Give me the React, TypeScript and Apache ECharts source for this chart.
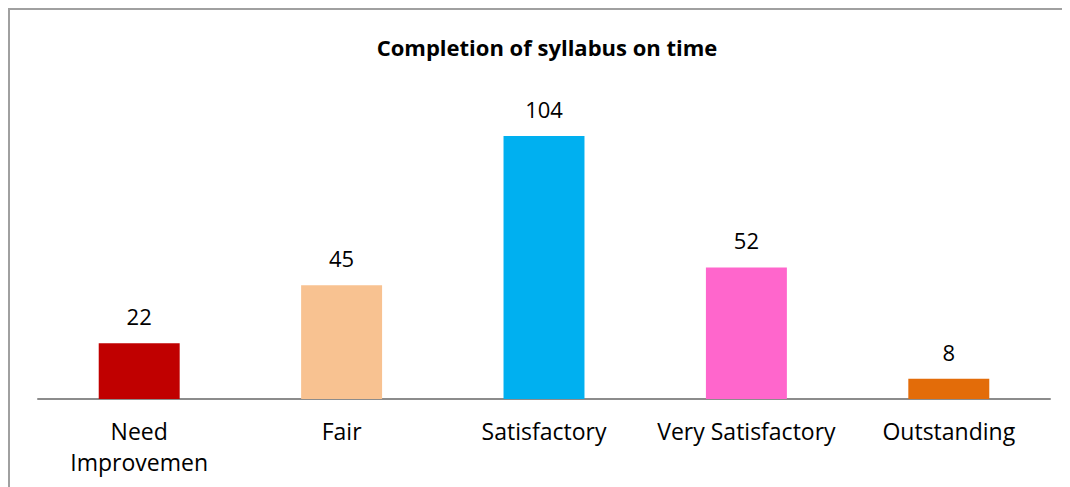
import React, { useEffect, useRef } from "react";
import * as echarts from "echarts";

const categories = ["Need\nImprovemen", "Fair", "Satisfactory", "Very Satisfactory", "Outstanding"];
const values = [22, 45, 104, 52, 8];
const barColors = ["#C00000", "#F8C291", "#00B0F0", "#FF66CC", "#E36C09"];
const titleText = "Completion of syllabus on time";

export default function App() {
  const ref = useRef<HTMLDivElement>(null);
  useEffect(() => {
    if (!ref.current) return;
    const chart = echarts.init(ref.current, null, { renderer: "svg" });
    const font = "'Open Sans', 'Noto Sans', sans-serif";
    chart.setOption({
      animation: false,
      backgroundColor: "#ffffff",
      title: {
        text: titleText,
        left: 532,
        top: 21,
        textAlign: "center",
        textStyle: { fontFamily: font, fontSize: 22, fontWeight: "bold", color: "#000" },
      },
      grid: { left: 28, right: 20, top: 85.5, bottom: 88 },
      xAxis: {
        type: "category",
        data: categories,
        axisLine: { show: true, lineStyle: { color: "#8c8c8c", width: 2 } },
        axisTick: { show: false },
        axisLabel: {
          interval: 0,
          margin: 16,
          fontFamily: font,
          fontSize: 23,
          lineHeight: 31,
          color: "#000",
        },
      },
      yAxis: {
        type: "value",
        min: 0,
        max: 120,
        show: false,
        splitLine: { show: false },
      },
      series: [
        {
          type: "bar",
          barWidth: "40%",
          data: values.map((v, i) => ({ value: v, itemStyle: { color: barColors[i] } })),
          label: {
            show: true,
            position: "top",
            distance: 16,
            fontFamily: font,
            fontSize: 22,
            color: "#000",
          },
        },
      ],
    });
    return () => chart.dispose();
  }, []);
  return (
    <div
      style={{
        width: 1062,
        height: 479,
        boxSizing: "border-box",
        borderTop: "2px solid #a0a0a0",
        borderLeft: "2px solid #a0a0a0",
        background: "#fff",
        overflow: "hidden",
      }}
    >
      <div ref={ref} style={{ width: 1060, height: 477 }} />
    </div>
  );
}
